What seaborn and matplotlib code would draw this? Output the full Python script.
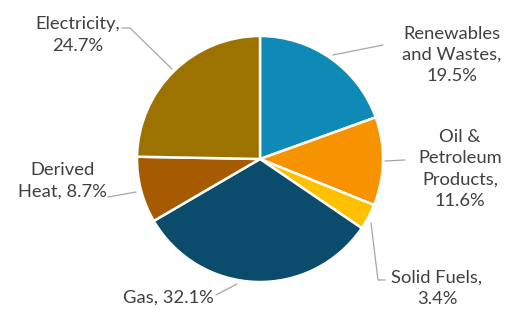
import matplotlib
matplotlib.use("Agg")
import matplotlib.pyplot as plt
import seaborn as sns

categories = ["Renewables\nand Wastes", "Oil &\nPetroleum\nProducts", "Solid Fuels", "Gas", "Derived\nHeat", "Electricity"]
values = [19.5, 11.6, 3.4, 32.1, 8.7, 24.7]
colors = ["#0F89B6", "#F79300", "#FFC000", "#0B4B6C", "#A65B00", "#9C7200"]

sns.set_theme(style="white")
plt.rcParams['font.family'] = ['Lato', 'DejaVu Sans']

W, H = 507, 316
fig = plt.figure(figsize=(W / 100, H / 100), dpi=100)
ax = fig.add_axes([0, 0, 1, 1])

cx, cy, r = 260, H - 159, 123
ax.pie(values, colors=colors, startangle=90, counterclock=False, center=(cx, cy), radius=r,
       wedgeprops=dict(edgecolor="white", linewidth=1.8), frame=True)
ax.set_xlim(0, W)
ax.set_ylim(0, H)
ax.axis("off")

def Y(py):
    return H - py

tc = "#404040"
lc = "#A6A6A6"
fs = 13.2
ls = 1.42

# Renewables
ax.text(452, Y(55), "Renewables\nand Wastes,\n%.1f%%" % values[0], ha="center", va="center", fontsize=fs, color=tc, linespacing=ls)
ax.plot([333, 383], [Y(55), Y(45)], color=lc, lw=0.9)
# Oil
ax.text(460, Y(169), "Oil &\nPetroleum\nProducts,\n%.1f%%" % values[1], ha="center", va="center", fontsize=fs, color=tc, linespacing=ls)
ax.plot([385, 405], [Y(161), Y(160)], color=lc, lw=0.9)
# Solid Fuels
ax.text(437, Y(288), "Solid Fuels,\n%.1f%%" % values[2], ha="center", va="center", fontsize=fs, color=tc, linespacing=ls)
ax.plot([371, 378, 385], [Y(223), Y(280), Y(280)], color=lc, lw=0.9)
# Gas
ax.text(168, Y(298), "Gas, %.1f%%" % values[3], ha="center", va="center", fontsize=fs, color=tc)
ax.plot([216, 237], [Y(295), Y(284)], color=lc, lw=0.9)
# Derived Heat
ax.text(62, Y(181), "Derived\nHeat, %.1f%%" % values[4], ha="center", va="center", fontsize=fs, color=tc, linespacing=ls)
ax.plot([108, 136], [Y(197), Y(192)], color=lc, lw=0.9)
# Electricity
ax.text(78, Y(35), "Electricity,\n%.1f%%" % values[5], ha="center", va="center", fontsize=fs, color=tc, linespacing=ls)
ax.plot([122, 130, 172], [Y(28), Y(28), Y(69)], color=lc, lw=0.9)

fig.savefig("out.png", dpi=100)
